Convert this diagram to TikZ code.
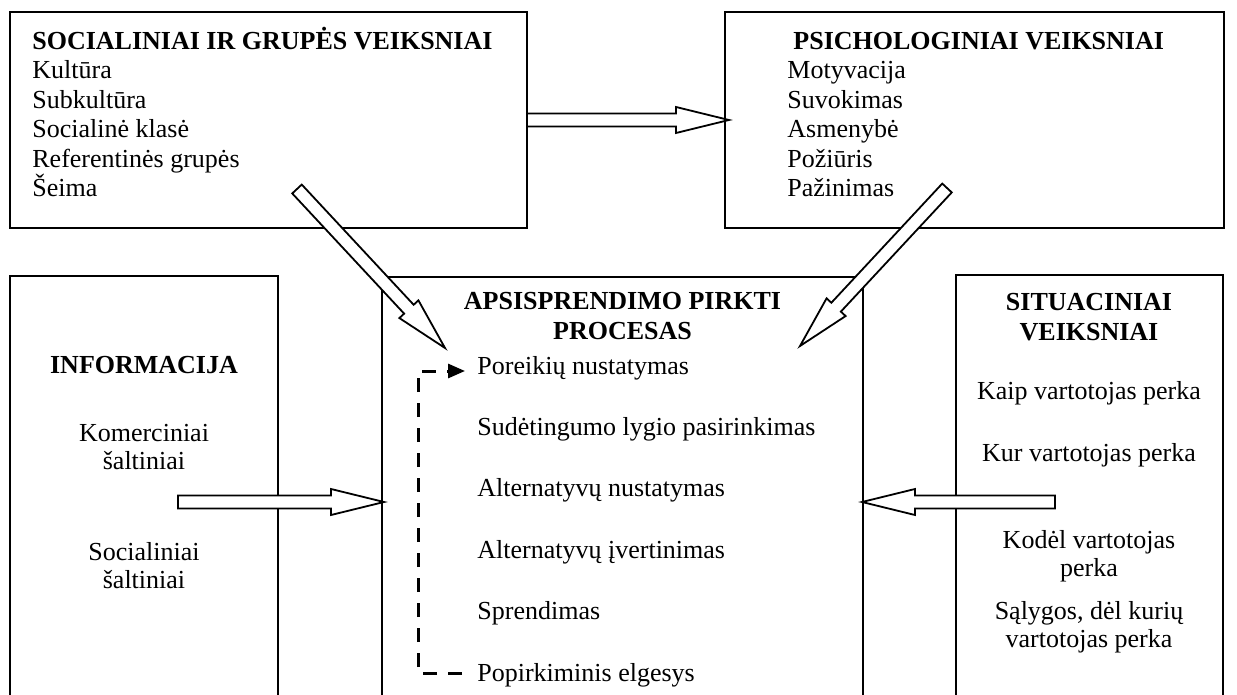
\documentclass[tikz,border=0pt]{standalone}
\usepackage{fontspec}
\setmainfont{Liberation Serif}
\usetikzlibrary{calc,fit,arrows.meta}

\tikzset{
  boxframe/.style={draw, line width=1pt, inner sep=0pt, fit=#1},
  txt/.style={font=\fontsize{13}{15}\selectfont, inner sep=0pt, anchor=base west},
  ttl/.style={txt, font=\fontsize{13}{15}\selectfont\bfseries},
  ctxt/.style={txt, anchor=base},
  cttl/.style={ttl, anchor=base},
  hollow/.style={draw, line width=0.9pt, fill=white, line join=miter},
  cycleline/.style={line width=1.5pt, dash pattern=on 7pt off 5.5pt,
    -{Triangle[length=8.5pt,width=7pt]}},
}

% hollow block arrow from #1 (tail) to #2 (tip); #3 names the head base
\newcommand\hollowarrow[3]{%
  \coordinate (#3) at ($(#2)!26.5pt!(#1)$);
  \draw[hollow] ($(#1)!3.25pt!90:(#2)$) -- ($(#3)!3.25pt!90:(#2)$)
    -- ($(#3)!6.5pt!90:(#2)$) -- (#2) -- ($(#3)!6.5pt!-90:(#2)$)
    -- ($(#3)!3.25pt!-90:(#2)$) -- ($(#1)!3.25pt!-90:(#2)$) -- cycle;
}

\begin{document}
\begin{tikzpicture}[x=0.5pt,y=-0.5pt]
\clip (0,0) rectangle (1237,695);

% ---- frames ----
\coordinate (soc-nw) at (10,12);   \coordinate (soc-se) at (527,228);
\coordinate (psy-nw) at (725,12);  \coordinate (psy-se) at (1224,228);
\coordinate (inf-nw) at (10,276);  \coordinate (inf-se) at (278,720);
\coordinate (pro-nw) at (382,277); \coordinate (pro-se) at (863,720);
\coordinate (sit-nw) at (956,275); \coordinate (sit-se) at (1223,720);
\node[boxframe={(soc-nw)(soc-se)}] (soc) {};
\node[boxframe={(psy-nw)(psy-se)}] (psy) {};
\node[boxframe={(inf-nw)(inf-se)}] (inf) {};
\node[boxframe={(pro-nw)(pro-se)}] (pro) {};
\node[boxframe={(sit-nw)(sit-se)}] (sit) {};

% ---- social and group factors ----
\node[ttl] (soc-t) at (32,50) {SOCIALINIAI IR GRUPĖS VEIKSNIAI};
\foreach \t [count=\i from 0] in {Kultūra,Subkultūra,Socialinė klasė,Referentinės grupės,Šeima}
  \node[txt] (soc-\i) at (32,79+29.5*\i) {\t};

% ---- psychological factors ----
\node[ttl] (psy-t) at (793,50) {PSICHOLOGINIAI VEIKSNIAI};
\foreach \t [count=\i from 0] in {Motyvacija,Suvokimas,Asmenybė,Požiūris,Pažinimas}
  \node[txt] (psy-\i) at (787,79+29.5*\i) {\t};

% ---- information ----
\node[cttl] (inf-t) at (144,373) {INFORMACIJA};
\node[ctxt] (inf-1a) at (144,441) {Komerciniai};
\node[ctxt] (inf-1b) at (144,469) {šaltiniai};
\node[ctxt] (inf-2a) at (144,560) {Socialiniai};
\node[ctxt] (inf-2b) at (144,588) {šaltiniai};

% ---- buying decision process ----
\node[cttl] (pro-t1) at (622.5,310) {APSISPRENDIMO PIRKTI};
\node[cttl] (pro-t2) at (622.5,340) {PROCESAS};
\foreach \t [count=\i from 0] in {Poreikių nustatymas,Sudėtingumo lygio pasirinkimas,Alternatyvų nustatymas,Alternatyvų įvertinimas,Sprendimas,Popirkiminis elgesys}
  \node[txt] (pro-\i) at (477,374+61.4*\i) {\t};

% ---- situational factors ----
\node[cttl] (sit-t1) at (1089,311) {SITUACINIAI};
\node[cttl] (sit-t2) at (1089,341) {VEIKSNIAI};
\node[ctxt] (sit-1) at (1089,399) {Kaip vartotojas perka};
\node[ctxt] (sit-2) at (1089,461) {Kur vartotojas perka};
\node[ctxt] (sit-3a) at (1089,548) {Kodėl vartotojas};
\node[ctxt] (sit-3b) at (1089,576) {perka};
\node[ctxt] (sit-4a) at (1089,619) {Sąlygos, dėl kurių};
\node[ctxt] (sit-4b) at (1089,647) {vartotojas perka};

% ---- block arrows ----
\coordinate (a1-tail) at (527,120);  \coordinate (a1-tip) at (729,120);
\coordinate (a2-tail) at (297,189);  \coordinate (a2-tip) at (445,348);
\coordinate (a3-tail) at (947,188);  \coordinate (a3-tip) at (800,346);
\coordinate (a4-tail) at (178,502);  \coordinate (a4-tip) at (384,502);
\coordinate (a5-tail) at (1055,502); \coordinate (a5-tip) at (862,502);
\hollowarrow{a1-tail}{a1-tip}{a1-head}
\hollowarrow{a2-tail}{a2-tip}{a2-head}
\hollowarrow{a3-tail}{a3-tip}{a3-head}
\hollowarrow{a4-tail}{a4-tip}{a4-head}
\hollowarrow{a5-tail}{a5-tip}{a5-head}

% ---- feedback loop ----
\coordinate (fb-end) at (462,673);
\coordinate (fb-bl) at (418,673);
\coordinate (fb-tl) at (418,371);
\coordinate (fb-tip) at (465,371);
\draw[cycleline] (fb-end) -- (fb-bl) -- (fb-tl) -- (fb-tip);
\end{tikzpicture}
\end{document}
